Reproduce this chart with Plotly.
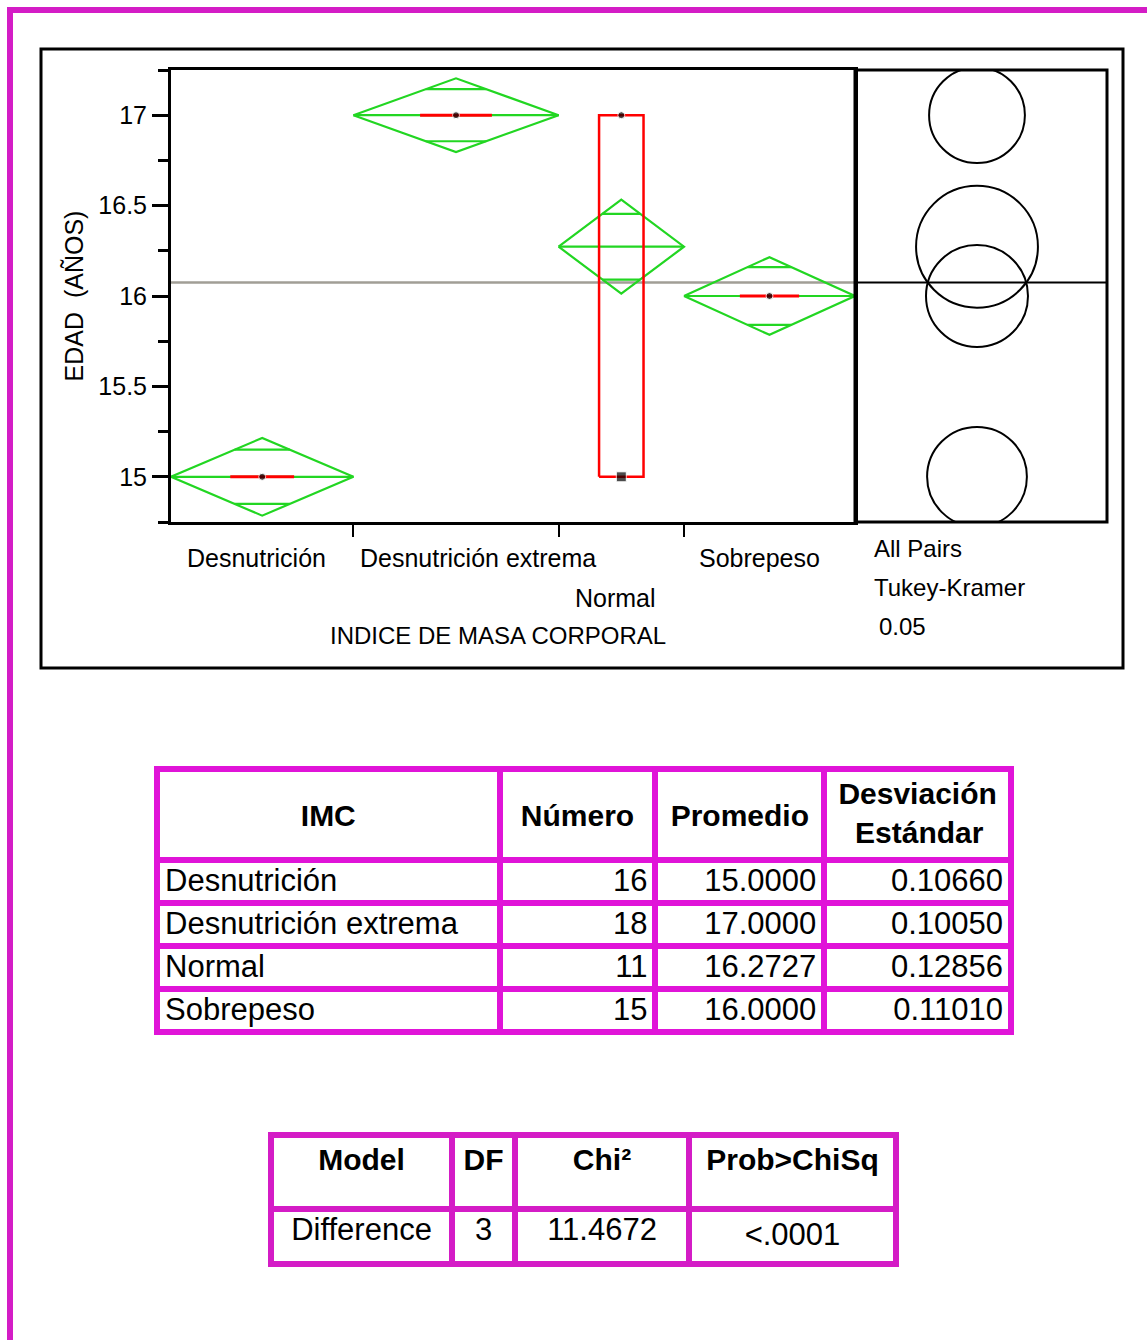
import numpy as np
import plotly.graph_objects as go

# ------------------------------------------------------------------ data
groups = ["Desnutrición", "Desnutrición extrema", "Normal", "Sobrepeso"]
n_obs = [16, 18, 11, 15]
means = [15.0000, 17.0000, 16.2727, 16.0000]
std_devs = [0.10660, 0.10050, 0.12856, 0.11010]
ci_half = [0.215, 0.204, 0.260, 0.215]          # means-diamond half height
overlap_half = [0.150, 0.144, 0.182, 0.160]     # overlap marks
q1 = [15.0, 17.0, 15.0, 16.0]
q3 = [15.0, 17.0, 17.0, 16.0]
point_groups = ["Desnutrición", "Desnutrición extrema", "Normal", "Normal", "Sobrepeso"]
point_values = [15.0, 17.0, 17.0, 15.0, 16.0]
grand_mean = 16.075
circle_radius = [0.276, 0.265, 0.337, 0.282]    # Tukey-Kramer comparison circles
y_tick_vals = [15, 15.5, 16, 16.5, 17]
y_tick_text = ["15", "15.5", "16", "16.5", "17"]

test_model = ["Difference"]
test_df = [3]
test_chi2 = [11.4672]
test_prob = ["&lt;.0001"]

# ------------------------------------------------------------------ layout / style
W, H = 1147, 1340
FONT = "Liberation Sans, Arial, sans-serif"
GREEN = "#22d622"
RED = "#ff0000"
GRAY = "#a19e96"
MAG1 = "#e014d8"
MAG2 = "#d41cc6"

def px(xp):
    return xp / W

def py(yp):
    return 1 - yp / H

box_width = [5.6, 6.3, 3.9, 5.2]
label_dx = [-6, 22, -6, -10]
label_row_y = [558, 558, 598, 558]
point_symbols = ["circle", "circle", "circle", "square", "circle"]
point_sizes = [7, 7, 7, 10, 7]

plot_l, plot_r, plot_t, plot_b = 171, 855, 70, 522
pan_r = 1107
circ_cx = 977
y_range = [14.75, 17.25]
px_per_unit = (plot_b - plot_t) / (y_range[1] - y_range[0])
x2_range = [-(circ_cx - plot_r) / px_per_unit, (pan_r - circ_cx) / px_per_unit]

cum = np.concatenate([[0], np.cumsum(n_obs)])
lefts, rights = cum[:-1], cum[1:]
centers = (lefts + rights) / 2
center_of = dict(zip(groups, centers))

fig = go.Figure()

# grand mean lines
fig.add_trace(go.Scatter(x=[0, cum[-1]], y=[grand_mean, grand_mean], mode="lines",
                         line=dict(color=GRAY, width=2.5), xaxis="x", yaxis="y",
                         hoverinfo="skip", showlegend=False))
fig.add_trace(go.Scatter(x=x2_range, y=[grand_mean, grand_mean], mode="lines",
                         line=dict(color="black", width=2), xaxis="x2", yaxis="y",
                         hoverinfo="skip", showlegend=False))

# means diamonds
for i in range(len(groups)):
    l, r, c, m, h, ov = lefts[i], rights[i], centers[i], means[i], ci_half[i], overlap_half[i]
    xs = [l, c, r, c, l, None, l, r]
    ys = [m, m + h, m, m - h, m, None, m, m]
    hw = (r - l) / 2 * (1 - ov / h)
    for s in (1, -1):
        xs += [None, c - hw, c + hw]
        ys += [None, m + s * ov, m + s * ov]
    fig.add_trace(go.Scatter(x=xs, y=ys, mode="lines", line=dict(color=GREEN, width=2.2),
                             xaxis="x", yaxis="y", hoverinfo="skip", showlegend=False))

# quantile boxes
for i in range(len(groups)):
    c, bw = centers[i], box_width[i] / 2
    if q3[i] > q1[i]:
        xs = [c - bw, c + bw, c + bw, c - bw, c - bw]
        ys = [q1[i], q1[i], q3[i], q3[i], q1[i]]
        w = 2.5
    else:
        xs = [c - bw, c + bw]
        ys = [q1[i], q1[i]]
        w = 3
    fig.add_trace(go.Scatter(x=xs, y=ys, mode="lines", line=dict(color=RED, width=w),
                             xaxis="x", yaxis="y", hoverinfo="skip", showlegend=False))

# points
fig.add_trace(go.Scatter(x=[center_of[g] for g in point_groups], y=point_values, mode="markers",
                         marker=dict(color="black", size=point_sizes, symbol=point_symbols),
                         xaxis="x", yaxis="y", hoverinfo="skip", showlegend=False))

# comparison circles
shapes = []
for m, r in zip(means, circle_radius):
    shapes.append(dict(type="circle", xref="x2", yref="y", x0=-r, x1=r, y0=m - r, y1=m + r,
                       line=dict(color="black", width=2)))
shapes.append(dict(type="rect", xref="x2 domain", yref="y domain", x0=0, x1=1, y0=0, y1=1,
                   line=dict(color="black", width=3)))
# outer chart frame
shapes.append(dict(type="rect", xref="paper", yref="paper", x0=px(41), x1=px(1123),
                   y0=py(668), y1=py(49), line=dict(color="black", width=3)))
# page magenta frame
shapes.append(dict(type="line", xref="paper", yref="paper", x0=px(7), x1=1, y0=py(10), y1=py(10),
                   line=dict(color=MAG2, width=6)))
shapes.append(dict(type="line", xref="paper", yref="paper", x0=px(10), x1=px(10), y0=0, y1=py(7),
                   line=dict(color=MAG2, width=6)))

annotations = []
for i, g in enumerate(groups):
    annotations.append(dict(text=g, x=centers[i], xref="x", xshift=label_dx[i],
                            y=py(label_row_y[i]), yref="paper", xanchor="center", yanchor="middle",
                            showarrow=False, font=dict(family=FONT, size=25, color="black")))
annotations.append(dict(text="INDICE DE MASA CORPORAL", x=px(498), y=py(635), xref="paper", yref="paper",
                        showarrow=False, font=dict(family=FONT, size=24, color="black")))
for txt, yy, xx in [("All Pairs", 548, 872), ("Tukey-Kramer", 587, 872), ("0.05", 627, 877)]:
    annotations.append(dict(text=txt, x=px(xx), y=py(yy), xref="paper", yref="paper", xanchor="left",
                            showarrow=False, font=dict(family=FONT, size=24, color="black")))

# table 1 : summary
def hdr_single(t):
    # small leading line so the single-line headers sit in the middle of the tall header row
    return "\u00a0<br><span style='font-size:30px'><b>" + t + "</b></span>"

fig.add_trace(go.Table(
    domain=dict(x=[px(157), px(1012)], y=[py(1060), py(769)]),
    columnwidth=[343, 156, 169, 187],
    header=dict(values=[hdr_single("IMC"), hdr_single("Número"), hdr_single("Promedio"),
                        "<b>Desviación<br>\u00a0\u00a0Estándar</b>"],
                height=91, align="center", fill=dict(color="white"),
                line=dict(color=MAG1, width=6),
                font=dict(family=FONT, size=[22, 22, 22, 30], color="black")),
    cells=dict(values=[groups, n_obs, means, std_devs], format=["", "d", ".4f", ".5f"],
               height=43, align=["left", "right", "right", "right"], fill=dict(color="white"),
               line=dict(color=MAG1, width=6), font=dict(family=FONT, size=31, color="black")),
))

# table 2 : test
fig.add_trace(go.Table(
    domain=dict(x=[px(271), px(896)], y=[py(1300), py(1135)]),
    columnwidth=[181, 63, 174, 207],
    header=dict(values=["<b>Model</b>", "<b>DF</b>", "<b>Chi²</b>", "<b>Prob&gt;ChiSq</b>"],
                height=74, align="center", fill=dict(color="white"),
                line=dict(color=MAG2, width=6), font=dict(family=FONT, size=30, color="black")),
    cells=dict(values=[test_model, test_df, test_chi2, test_prob], format=["", "d", ".4f", ""],
               height=55, align="center", fill=dict(color="white"),
               line=dict(color=MAG2, width=6), font=dict(family=FONT, size=31, color="black")),
))

fig.update_layout(
    width=W, height=H, margin=dict(l=0, r=0, t=0, b=0),
    paper_bgcolor="white", plot_bgcolor="white", showlegend=False,
    font=dict(family=FONT, color="black"),
    xaxis=dict(domain=[px(plot_l), px(plot_r)], range=[0, cum[-1]], anchor="y",
               showline=True, linecolor="black", linewidth=3, mirror=True,
               ticks="outside", tickvals=list(cum[1:-1]), ticklen=12, tickwidth=2, tickcolor="black",
               showticklabels=False, showgrid=False, zeroline=False, fixedrange=True),
    yaxis=dict(domain=[py(plot_b), py(plot_t)], range=y_range, anchor="x",
               showline=True, linecolor="black", linewidth=3, mirror=True,
               tickmode="array", tickvals=y_tick_vals, ticktext=y_tick_text,
               ticks="outside", ticklen=16, tickwidth=3, tickcolor="black",
               tickfont=dict(family=FONT, size=25, color="black"), ticklabelstandoff=0,
               minor=dict(tickmode="linear", tick0=14.75, dtick=0.25, ticks="outside",
                          ticklen=10, tickwidth=3, tickcolor="black"),
               title=dict(text="EDAD\u00a0 (AÑOS)", standoff=8,
                          font=dict(family=FONT, size=25, color="black")),
               showgrid=False, zeroline=False, fixedrange=True),
    xaxis2=dict(domain=[px(plot_r), px(pan_r)], range=x2_range, anchor="y",
                visible=False, fixedrange=True),
    shapes=shapes, annotations=annotations,
)

fig.write_html("out.html", config=dict(displayModeBar=False),
               post_script="document.body.style.margin='0';document.body.style.overflow='hidden';")
